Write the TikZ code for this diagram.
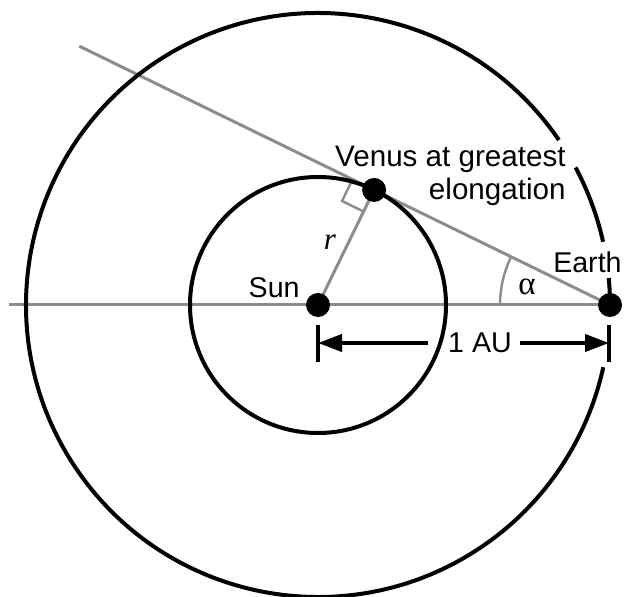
\documentclass[tikz,border=0pt]{standalone}
\usepackage{fontspec}
\setmainfont{Liberation Sans}
\newfontfamily\serifrm{Liberation Serif}
\usetikzlibrary{calc,arrows.meta,backgrounds}
\definecolor{linegray}{RGB}{140,140,140}
\begin{document}
\begin{tikzpicture}[x=0.5pt,y=0.5pt,
  guide/.style={draw=linegray,line width=1.5pt},
  orbit/.style={draw=black,line width=2pt},
  body/.style={circle,fill=black,inner sep=0pt,minimum size=12pt},
  lbl/.style={font=\fontsize{14.3}{16.5}\selectfont,inner sep=0pt},
  dimarrow/.style={line width=2pt,-{Triangle[length=12pt,width=8.5pt]}},
  dimtick/.style={line width=2pt}]
\useasboundingbox (0,0) rectangle (626,-597);
% bodies
\node[body] (sun) at (318,-305) {};
\node[body] (earth) at (610,-305) {};
\node[body] (venus) at ($(sun.center)+(64:128)$) {};
\coordinate (far) at ($(earth.center)!2.25!(venus.center)$);
\coordinate (west) at (9,-305);
\coordinate (ra1) at ($(venus.center)!12pt!(sun.center)$);
\coordinate (ra2) at ($(venus.center)!12pt!(far)$);
\coordinate (ra3) at ($(ra1)+(ra2)-(venus.center)$);
% labels
\node[lbl,font=\fontsize{14.8}{16.5}\selectfont,anchor=north east,align=right] (venuslbl) at (566,-146) {Venus at greatest\\elongation};
\node[lbl,anchor=base east] (earthlbl) at (622,-273) {Earth};
\node[lbl,anchor=base east] (sunlbl) at (300,-298) {Sun};
\node[lbl,font=\serifrm\itshape\fontsize{15.5}{18}\selectfont] (rlbl) at (330,-242) {r};
\node[lbl,font=\serifrm\fontsize{16.5}{18}\selectfont] (alphalbl) at (527,-287) {α};
\node[lbl] (aulbl) at (480,-343) {1 AU};
% dimension
\coordinate (dimL) at (318,-343);
\coordinate (dimR) at (609,-343);
\coordinate (aul) at (428,-343);
\coordinate (aur) at (520,-343);
\draw[dimtick] ($(dimL)+(0,18)$) -- ($(dimL)+(0,-19)$);
\draw[dimtick] ($(dimR)+(0,18)$) -- ($(dimR)+(0,-19)$);
\draw[dimarrow] (aul) -- (dimL);
\draw[dimarrow] (aur) -- (dimR);
\begin{pgfonlayer}{background}
  \draw[guide] (west) -- (earth.center);
  \draw[guide] (far) -- (earth.center);
  \draw[guide] (sun.center) -- (venus.center);
  \draw[guide,line width=1.2pt] (ra1) -- (ra3) -- (ra2);
  \draw[guide,line width=1.2pt] ($(earth.center)+(180:110)$) arc[start angle=180,end angle=154,radius=110];
  \draw[orbit] (sun.center) circle[radius=128];
  \draw[orbit] ($(sun.center)+(34.4:292)$) arc[start angle=34.4,end angle=347.7,radius=292];
  \draw[orbit] ($(sun.center)+(12.5:292)$) arc[start angle=12.5,end angle=28.1,radius=292];
  \draw[orbit] ($(sun.center)+(-1:292)$) arc[start angle=-1,end angle=5.3,radius=292];
\end{pgfonlayer}
\end{tikzpicture}
\end{document}
